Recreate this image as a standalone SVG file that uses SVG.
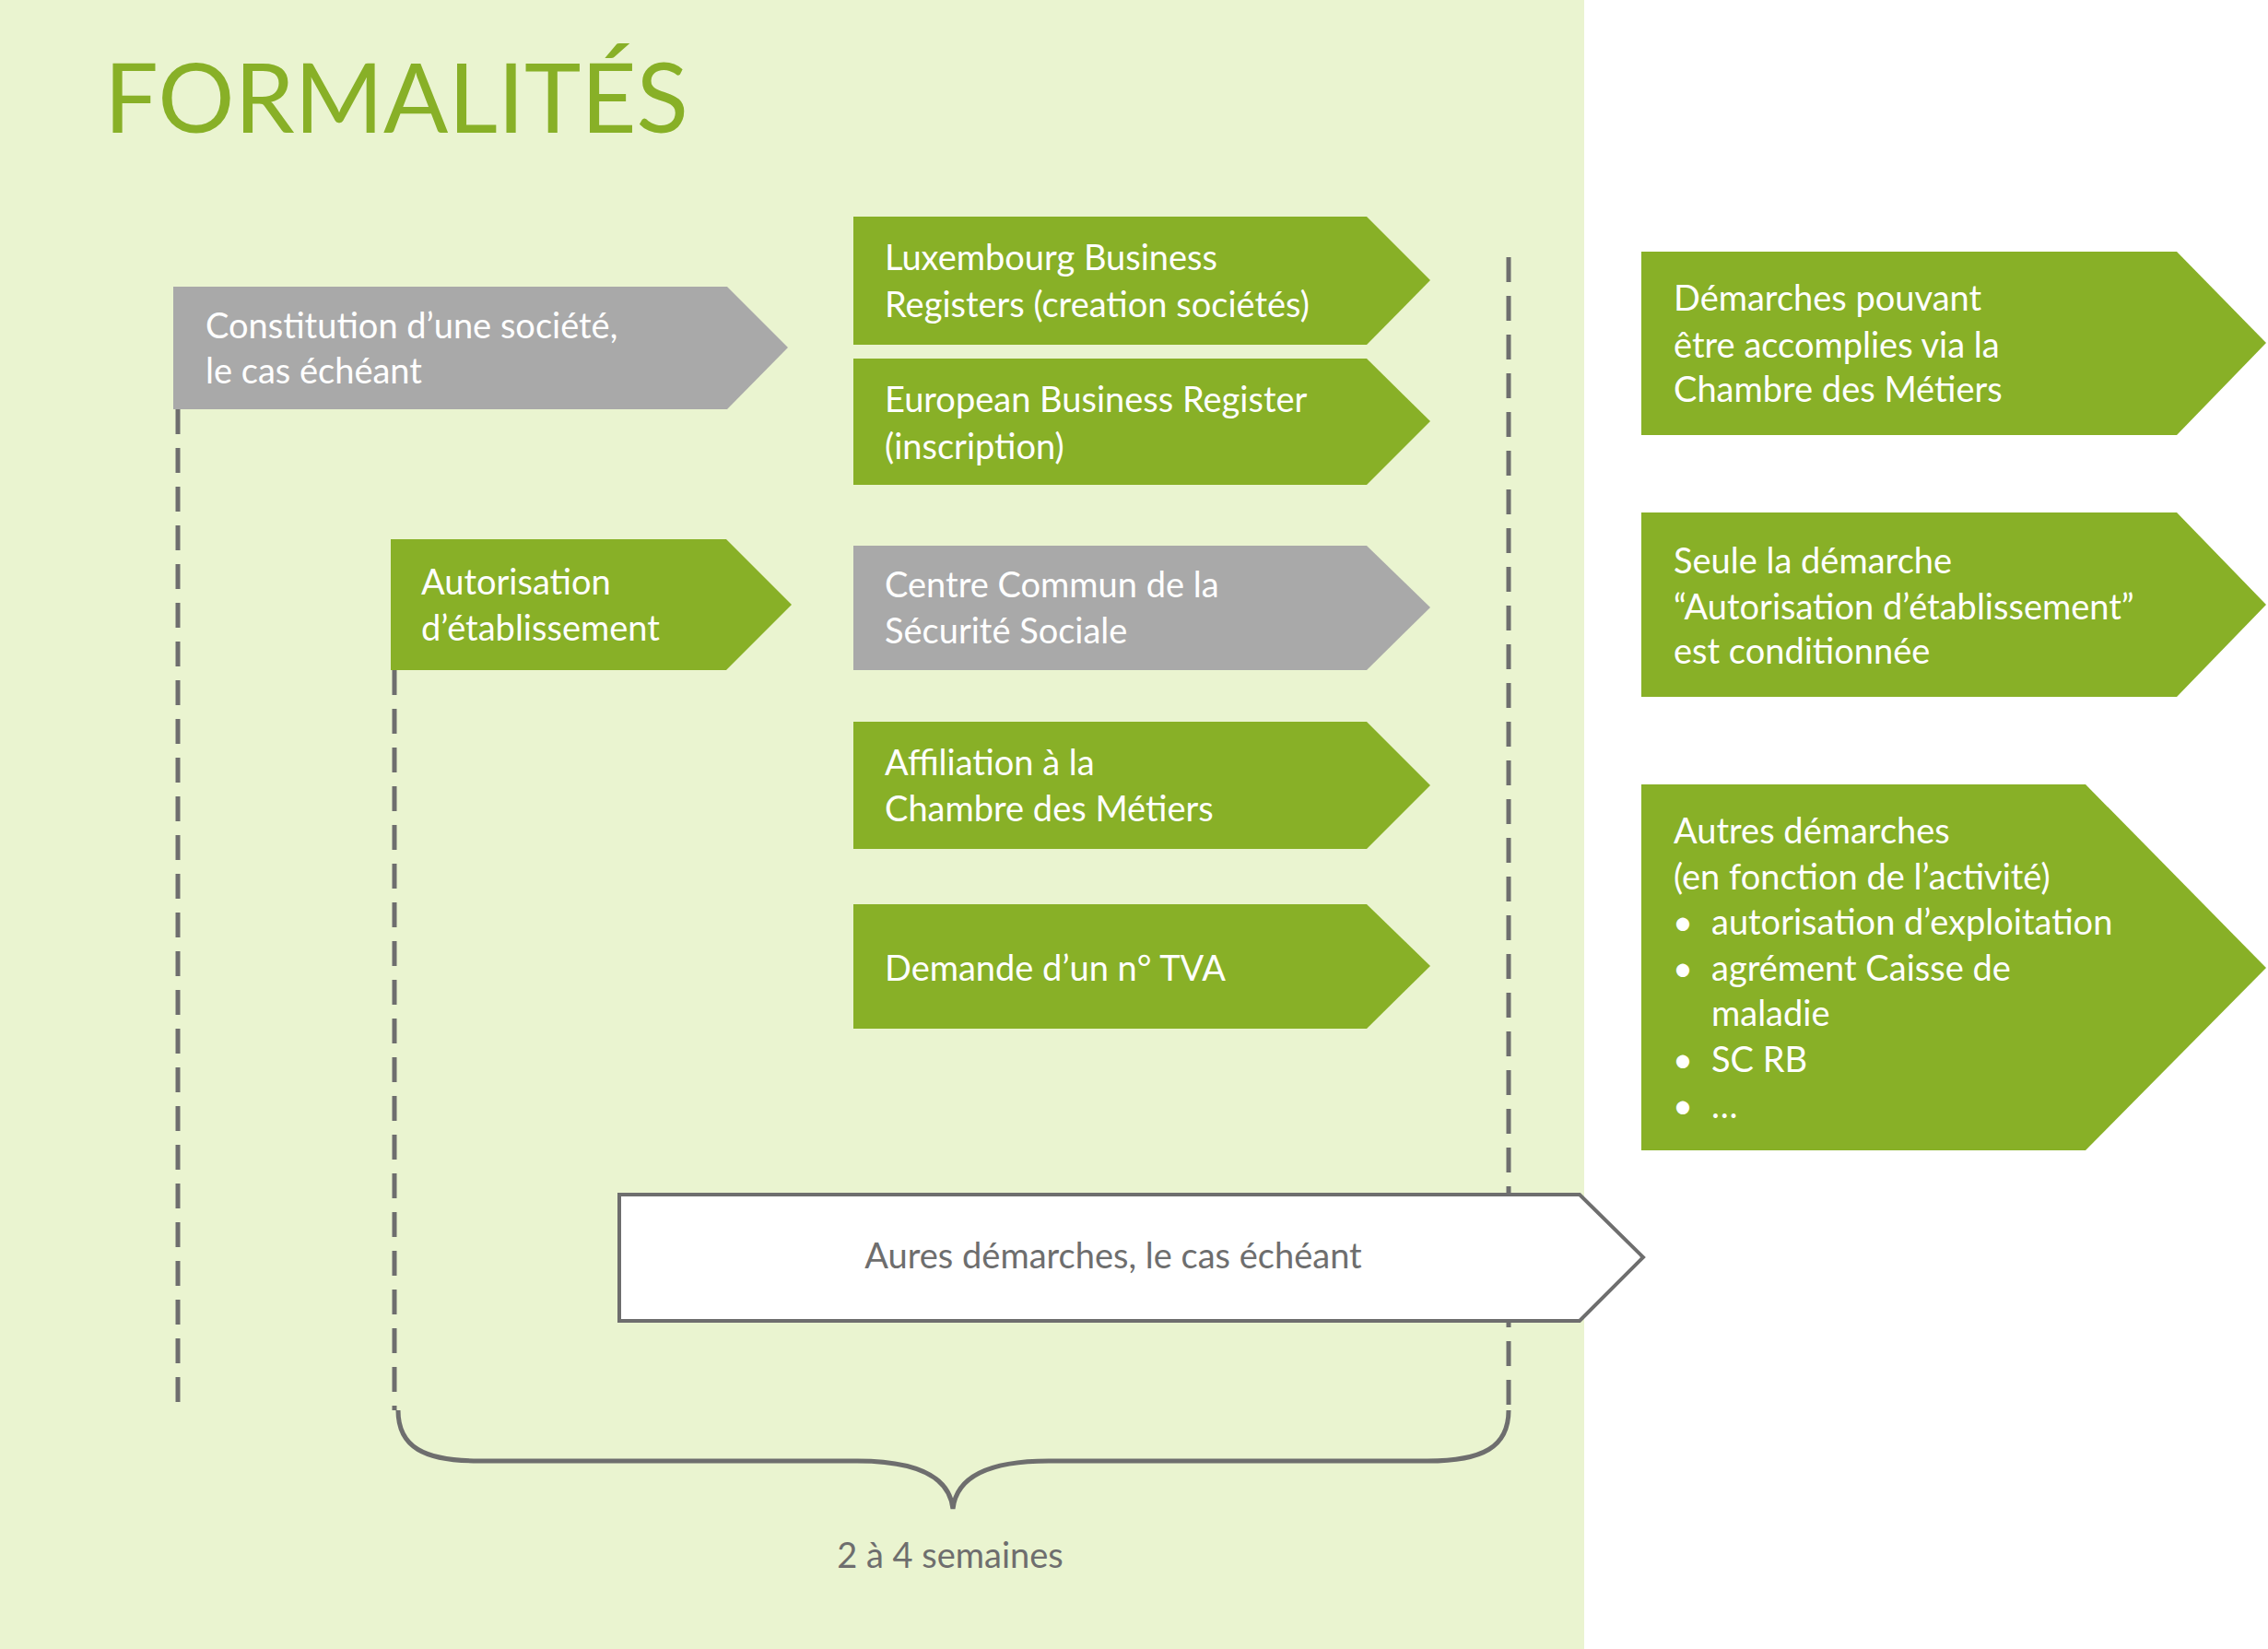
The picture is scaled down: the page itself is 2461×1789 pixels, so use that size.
<svg xmlns="http://www.w3.org/2000/svg" width="2461" height="1789" viewBox="0 0 2461 1789">
<style>
text{font-family:Lato,"Open Sans","Liberation Sans",sans-serif;font-size:38px}
.w{fill:#ffffff}.g{fill:#6e6e6e}
.gr{fill:#88b027}.gy{fill:#a9a9a9}
.dash{stroke:#6e6e6e;stroke-width:5;stroke-dasharray:27,15;fill:none}
</style>
<rect x="0" y="0" width="1719" height="1789" fill="#eaf4d0"/>
<rect x="1719" y="0" width="742" height="1789" fill="#ffffff"/>
<text x="113" y="144" style="font-size:104px" fill="#88b027">FORMALITÉS</text>
<g id="connectors">
<path class="dash" d="M193 444V1530"/>
<path class="dash" d="M428 727V1530"/>
<path class="dash" d="M1637 279V1530"/>
<path d="M432 1530C432 1570 460 1585 520 1585H930C990 1585 1030 1600 1034 1637C1038 1600 1078 1585 1138 1585H1549C1609 1585 1637 1570 1637 1530" fill="none" stroke="#6e6e6e" stroke-width="5"/>
</g>
<g id="constitution"><path class="gy" d="M188 311H789L855 377L789 444H188Z"/>
<text class="w" x="223" y="367">Constitution d’une société,</text><text class="w" x="223" y="416">le cas échéant</text></g>
<g id="autorisation"><path class="gr" d="M424 585H788L859 656L788 727H424Z"/>
<text class="w" x="457" y="645">Autorisation</text><text class="w" x="457" y="695">d’établissement</text></g>
<g id="lbr"><path class="gr" d="M926 235H1483L1552 304L1483 374H926Z"/>
<text class="w" x="960" y="293">Luxembourg Business</text><text class="w" x="960" y="344">Registers (creation sociétés)</text></g>
<g id="ebr"><path class="gr" d="M926 389H1483L1552 457L1483 526H926Z"/>
<text class="w" x="960" y="447">European Business Register</text><text class="w" x="960" y="498">(inscription)</text></g>
<g id="ccss"><path class="gy" d="M926 592H1483L1552 659L1483 727H926Z"/>
<text class="w" x="960" y="648">Centre Commun de la</text><text class="w" x="960" y="698">Sécurité Sociale</text></g>
<g id="affiliation"><path class="gr" d="M926 783H1483L1552 852L1483 921H926Z"/>
<text class="w" x="960" y="841">Affiliation à la</text><text class="w" x="960" y="891">Chambre des Métiers</text></g>
<g id="tva"><path class="gr" d="M926 981H1483L1552 1048L1483 1116H926Z"/>
<text class="w" x="960" y="1064">Demande d’un n° TVA</text></g>
<g id="aures"><path d="M672 1296H1714L1783 1364L1714 1433H672Z" fill="#ffffff" stroke="#6e6e6e" stroke-width="4"/>
<text class="g" x="1208" y="1376" text-anchor="middle">Aures démarches, le cas échéant</text></g>
<g id="legend1"><path class="gr" d="M1781 273H2362L2459 372L2362 472H1781Z"/>
<text class="w" x="1816" y="337">Démarches pouvant</text><text class="w" x="1816" y="388">être accomplies via la</text><text class="w" x="1816" y="436">Chambre des Métiers</text></g>
<g id="legend2"><path class="gr" d="M1781 556H2362L2459 656L2362 756H1781Z"/>
<text class="w" x="1816" y="622">Seule la démarche</text><text class="w" x="1816" y="672">“Autorisation d’établissement”</text><text class="w" x="1816" y="720">est conditionnée</text></g>
<g id="legend3"><path class="gr" d="M1781 851H2263L2459 1050L2263 1248H1781Z"/>
<text class="w" x="1816" y="915">Autres démarches</text><text class="w" x="1816" y="965">(en fonction de l’activité)</text>
<text class="w" x="1815" y="1014">•</text><text class="w" x="1857" y="1014">autorisation d’exploitation</text>
<text class="w" x="1815" y="1064">•</text><text class="w" x="1857" y="1064">agrément Caisse de</text>
<text class="w" x="1857" y="1113">maladie</text>
<text class="w" x="1815" y="1163">•</text><text class="w" x="1857" y="1163">SC RB</text>
<text class="w" x="1815" y="1213">•</text><text class="w" x="1857" y="1213">…</text></g>
<text class="g" x="1031" y="1701" text-anchor="middle">2 à 4 semaines</text>
</svg>
